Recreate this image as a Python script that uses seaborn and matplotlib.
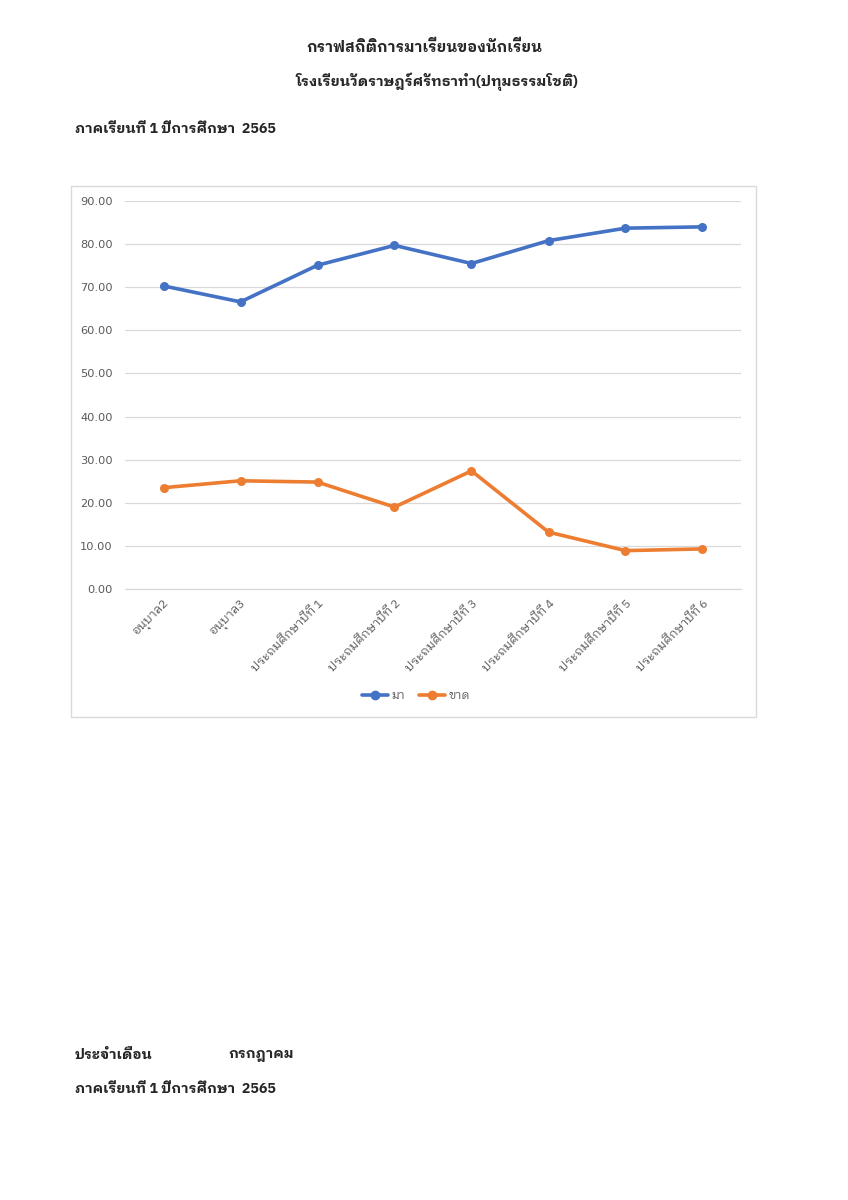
import matplotlib
matplotlib.use("Agg")
import pandas as pd
import matplotlib.pyplot as plt
import seaborn as sns
from matplotlib.patches import Rectangle

# Chart data
grades = ["อนุบาล2", "อนุบาล3", "ประถมศึกษาปีที่ 1", "ประถมศึกษาปีที่ 2",
          "ประถมศึกษาปีที่ 3", "ประถมศึกษาปีที่ 4", "ประถมศึกษาปีที่ 5", "ประถมศึกษาปีที่ 6"]
present = [70.3, 66.6, 75.1, 79.7, 75.5, 80.8, 83.7, 84.0]
absent = [23.5, 25.1, 24.8, 19.0, 27.4, 13.2, 8.9, 9.3]
series_names = ["มา", "ขาด"]
y_ticks = [0, 10, 20, 30, 40, 50, 60, 70, 80, 90]

title1 = "กราฟสถิติการมาเรียนของนักเรียน"
title2 = "โรงเรียนวัดราษฎร์ศรัทธาทำ(ปทุมธรรมโชติ)"
term_text = "ภาคเรียนที่ 1 ปีการศึกษา  2565"
month_label = "ประจำเดือน"
month_name = "กรกฎาคม"

sns.set_theme(style="white")
plt.rcParams["font.family"] = ["IBM Plex Sans Thai Looped", "DejaVu Sans"]

COLORS = ["#4472C4", "#ED7D31"]
GRID = "#D9D9D9"
TICK = "#595959"

df = pd.DataFrame({
    "pos": list(range(len(grades))) * 2,
    "value": present + absent,
    "series": [series_names[0]] * len(grades) + [series_names[1]] * len(grades),
})

fig = plt.figure(figsize=(8.48, 12), dpi=100)
W, H = 848, 1200

# chart frame like the Excel chart area
frame = Rectangle((71 / W, 1 - 717 / H), (756 - 71) / W, (717 - 186) / H,
                  transform=fig.transFigure, facecolor="none",
                  edgecolor=GRID, linewidth=1.0, zorder=-1)
fig.patches.append(frame)

ax = fig.add_axes([125 / W, 1 - 589 / H, (741 - 125) / W, (589 - 201) / H])
ax.set_facecolor("none")
sns.lineplot(data=df, x="pos", y="value", hue="series", palette=COLORS,
             marker="o", markersize=6.5, markeredgewidth=0, linewidth=2.6,
             sort=False, ax=ax, legend=False)

ax.set_xlim(-0.5, len(grades) - 0.5)
ax.set_ylim(0, 90)
ax.set_yticks(y_ticks)
ax.set_yticklabels([f"{v:.2f}" for v in y_ticks], color=TICK, fontsize=8.2,
                   family=["DejaVu Sans"])
ax.set_xticks(range(len(grades)))
ax.set_xticklabels(grades, rotation=45, ha="right", rotation_mode="anchor",
                   color=TICK, fontsize=8.7)
ax.tick_params(axis="both", length=0, pad=6)
ax.tick_params(axis="y", pad=9)
ax.grid(axis="y", color=GRID, linewidth=0.9)
ax.axhline(0, color=GRID, linewidth=0.9, clip_on=False, zorder=0.5)
ax.set_axisbelow(True)
for s in ax.spines.values():
    s.set_visible(False)
ax.set_xlabel("")
ax.set_ylabel("")

handles = [plt.Line2D([], [], color=c, marker="o", markersize=6, linewidth=2.6)
           for c in COLORS]
fig.legend(handles, series_names, loc="center", bbox_to_anchor=(416 / W, 1 - 696 / H),
           ncol=2, frameon=False, fontsize=8.5, handlelength=2.2, columnspacing=1.2,
           handletextpad=0.3, labelcolor=TICK)

# page texts
fig.text(424 / W, 1 - 47 / H, title1, ha="center", va="center", fontsize=10.9,
         fontweight="bold")
fig.text(437 / W, 1 - 82 / H, title2, ha="center", va="center", fontsize=10.4,
         fontweight="bold")
fig.text(75 / W, 1 - 129 / H, term_text, ha="left", va="center", fontsize=10.3,
         fontweight="bold")
fig.text(75 / W, 1 - 1055 / H, month_label, ha="left", va="center", fontsize=10.3,
         fontweight="bold")
fig.text(228 / W, 1 - 1055 / H, month_name, ha="left", va="center", fontsize=10.3,
         fontweight="bold")
fig.text(75 / W, 1 - 1089 / H, term_text, ha="left", va="center", fontsize=10.3,
         fontweight="bold")

fig.savefig("out.png", dpi=100, facecolor="white")
